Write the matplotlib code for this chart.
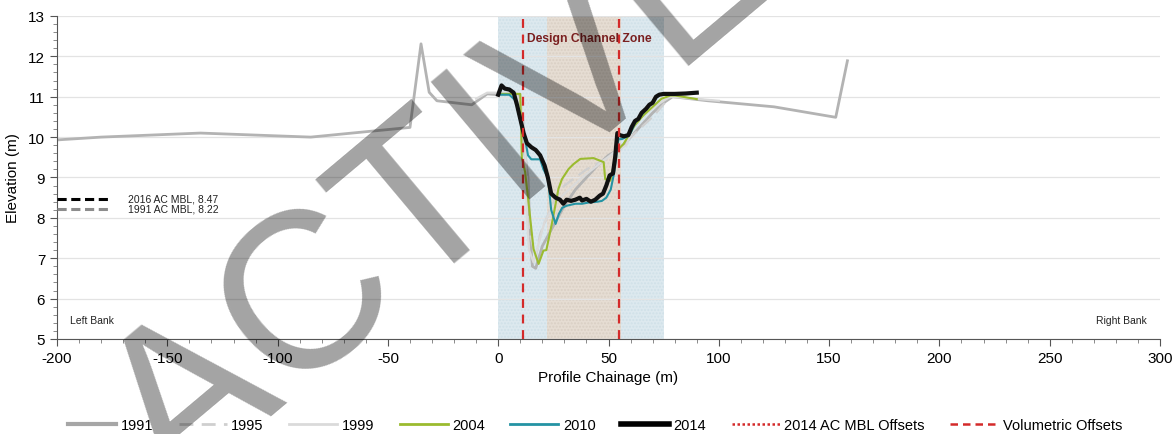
import matplotlib.pyplot as plt
from matplotlib.lines import Line2D
import numpy as np

plt.rcParams['font.family'] = ['Liberation Sans', 'DejaVu Sans']
plt.rcParams['axes.unicode_minus'] = False

# --- survey profiles (chainage m, elevation m) ---
x_1991 = [-200, -180, -135, -85, -40, -35, -31.3, -27.8, -12, -5, 0, 5, 9, 11, 12, 13.5, 14.5, 15.5, 17,
          20, 25, 30, 35, 40, 45, 50, 55, 60, 65, 70, 75, 79, 95, 125, 153, 158.3]
y_1991 = [9.93, 10.0, 10.1, 10.0, 10.24, 12.31, 11.11, 10.9, 10.8, 11.07, 11.05, 11.1, 11.05, 10.5, 9.6,
          9.0, 7.5, 6.8, 6.75, 7.3, 7.8, 8.3, 8.7, 9.0, 9.3, 9.55, 9.7, 10.0, 10.3, 10.6, 10.85, 11.0,
          10.9, 10.75, 10.49, 11.89]

x_1995 = [0, 8, 11, 12, 13, 14, 17, 19, 22, 26, 30, 35, 40, 45, 50, 55, 60, 70, 78, 85]
y_1995 = [11.05, 11.05, 10.6, 10.0, 9.0, 7.7, 7.0, 7.6, 8.0, 8.5, 8.8, 9.0, 9.2, 9.35, 9.5, 9.75,
          10.0, 10.5, 11.0, 11.0]

x_1999 = [-10, -5, 0, 8, 10.5, 12, 13, 14, 16, 18, 21, 25, 30, 38, 45, 52, 58, 61, 65, 72, 78, 100]
y_1999 = [10.95, 11.1, 11.1, 11.1, 10.8, 10.0, 8.0, 7.2, 6.9, 7.3, 7.9, 8.3, 8.6, 9.0, 9.3, 9.6,
          9.8, 10.2, 10.5, 10.8, 11.0, 10.9]

x_2004 = [0, 10, 10.7, 12.2, 13.5, 16, 18.3, 20.5, 21.8, 24.3, 27.3, 28.9, 31.9, 34.1, 37.2, 43.2,
          47.8, 48.5, 50.8, 53.8, 56.8, 59.1, 62, 66, 70, 74, 78, 80.2, 90]
y_2004 = [11.07, 11.07, 9.5, 9.13, 8.5, 7.23, 6.86, 7.19, 7.2, 7.85, 8.72, 8.96, 9.21, 9.33, 9.46,
          9.48, 9.38, 8.96, 8.92, 9.66, 9.83, 10.04, 10.3, 10.55, 10.75, 10.95, 11.03, 11.03, 10.94]

x_2010 = [0, 5, 8, 10, 12, 13.5, 15, 19, 20.5, 22.5, 24, 26, 27.5, 29, 31, 35, 38, 41, 45, 47, 49,
          51, 52.5, 53.5, 54.5, 56, 58, 60, 62, 65, 68, 71, 73.5, 80]
y_2010 = [11.05, 11.05, 10.9, 10.4, 10.0, 9.55, 9.45, 9.45, 9.2, 9.0, 8.2, 7.85, 8.1, 8.25, 8.3, 8.35,
          8.35, 8.38, 8.4, 8.42, 8.5, 8.7, 9.1, 9.5, 9.95, 9.95, 10.0, 10.1, 10.35, 10.55, 10.75, 10.95,
          11.05, 11.05]

x_2014 = [0, 1.5, 3, 5, 7, 8.5, 10, 11.5, 13, 15, 17, 19, 21, 22.5, 24, 26, 28, 29.5, 31, 33, 35, 37,
          38, 40, 42, 44, 46, 47.5, 49, 50.5, 52, 53, 54, 55, 57, 59, 60.5, 62, 63.5, 65, 67, 68.5, 70,
          71.5, 73, 75, 80, 85, 90]
y_2014 = [11.05, 11.28, 11.2, 11.18, 11.1, 10.8, 10.45, 10.1, 9.85, 9.75, 9.68, 9.55, 9.3, 9.0, 8.6,
          8.5, 8.45, 8.35, 8.45, 8.42, 8.45, 8.5, 8.43, 8.47, 8.4, 8.45, 8.55, 8.6, 8.8, 9.05, 9.1, 9.5,
          10.1, 10.05, 10.02, 10.05, 10.25, 10.4, 10.45, 10.6, 10.7, 10.8, 10.85, 11.0, 11.05, 11.07,
          11.07, 11.08, 11.1]

mbl_labels = ['2016 AC MBL, 8.47', '1991 AC MBL, 8.22']
mbl_values = [8.47, 8.22]

channel_zone = [0, 75]
design_zone = [22, 55.6]
volumetric_offsets = [11.2, 54.6]

fig = plt.figure(figsize=(11.76, 4.35), dpi=100)
ax = fig.add_axes([0.0485, 0.2184, 0.9379, 0.7426])

# zones
ax.axvspan(channel_zone[0], channel_zone[1], facecolor='#dde9ef', edgecolor='#cfe0e8',
           hatch='.....', linewidth=0, zorder=0)
ax.axvspan(design_zone[0], design_zone[1], facecolor='#e6ddd3', edgecolor='#d9cfc4',
           hatch='.....', linewidth=0, zorder=0.5)
for xo in volumetric_offsets:
    ax.axvline(xo, color='#d42a2a', linestyle=(0, (4, 3)), linewidth=1.6, zorder=6)
ax.text(13, 12.45, 'Design Channel Zone', color='#7a1f1f', fontsize=8.7, fontweight='bold',
        ha='left', va='center', zorder=7)

# profiles
ax.plot(x_1991, y_1991, color='#b3b3b3', linewidth=2.0, zorder=2)
ax.plot(x_1995, y_1995, color='#cfcfcf', linewidth=1.6, linestyle=(0, (6, 3)), zorder=2)
ax.plot(x_1999, y_1999, color='#dadada', linewidth=1.6, zorder=2)
ax.plot(x_2004, y_2004, color='#9bbb2f', linewidth=1.5, zorder=3)
ax.plot(x_2010, y_2010, color='#2493a3', linewidth=1.5, zorder=4)
ax.plot(x_2014, y_2014, color='#111111', linewidth=3.0, zorder=5)

# MBL markers
ax.plot([-200, -175], [mbl_values[0]] * 2, color='black', linestyle=(0, (3, 1.5)), linewidth=2.2,
        zorder=5, clip_on=False)
ax.plot([-200, -175], [mbl_values[1]] * 2, color='#8c8c8c', linestyle=(0, (3, 1.5)), linewidth=2.2,
        zorder=5, clip_on=False)
ax.text(-168, mbl_values[0], mbl_labels[0], fontsize=7.5, va='center', color='#222222')
ax.text(-168, mbl_values[1], mbl_labels[1], fontsize=7.5, va='center', color='#222222')

ax.text(-194, 5.47, 'Left Bank', fontsize=7.5, va='center', color='#222222')
ax.text(294, 5.47, 'Right Bank', fontsize=7.5, va='center', ha='right', color='#222222')

ax.set_xlim(-200, 300)
ax.set_ylim(5, 13)
ax.set_xticks(np.arange(-200, 301, 50))
ax.set_xticks(np.arange(-200, 301, 10), minor=True)
ax.set_yticks(np.arange(5, 14, 1))
ax.set_yticks(np.arange(5, 13.01, 0.2), minor=True)
ax.grid(axis='y', which='major', color='#e3e3e3', linewidth=0.9, zorder=0)
ax.set_axisbelow(True)
for s in ['top', 'right']:
    ax.spines[s].set_visible(False)
for s in ['left', 'bottom']:
    ax.spines[s].set_color('#555555')
ax.tick_params(which='major', length=5, color='#555555', labelsize=11)
ax.tick_params(which='minor', length=3, color='#777777')
ax.set_xlabel('Profile Chainage (m)', fontsize=11, labelpad=4)
ax.set_ylabel('Elevation (m)', fontsize=11, labelpad=6)

handles = [
    Line2D([], [], color='#a6a6a6', linewidth=3),
    Line2D([], [], color='#cfcfcf', linewidth=2, linestyle=(0, (5, 3))),
    Line2D([], [], color='#dadada', linewidth=2),
    Line2D([], [], color='#9bbb2f', linewidth=2),
    Line2D([], [], color='#2493a3', linewidth=2),
    Line2D([], [], color='black', linewidth=4),
    Line2D([], [], color='#d42a2a', linewidth=1.8, linestyle=(0, (1, 1))),
    Line2D([], [], color='#d42a2a', linewidth=1.8, linestyle=(0, (3, 2))),
]
labels = ['1991', '1995', '1999', '2004', '2010', '2014', '2014 AC MBL Offsets', 'Volumetric Offsets']
fig.legend(handles, labels, loc='lower center', bbox_to_anchor=(0.506, -0.025), ncol=8, frameon=False,
           fontsize=10.5, handlelength=3.3, columnspacing=1.75, handletextpad=0.3)

# watermark
fig.text(0.378, 0.55, 'ACTIVE', fontsize=160, color='black', alpha=0.36, rotation=40,
         ha='center', va='center', zorder=20)

fig.savefig('out.png', dpi=100)
